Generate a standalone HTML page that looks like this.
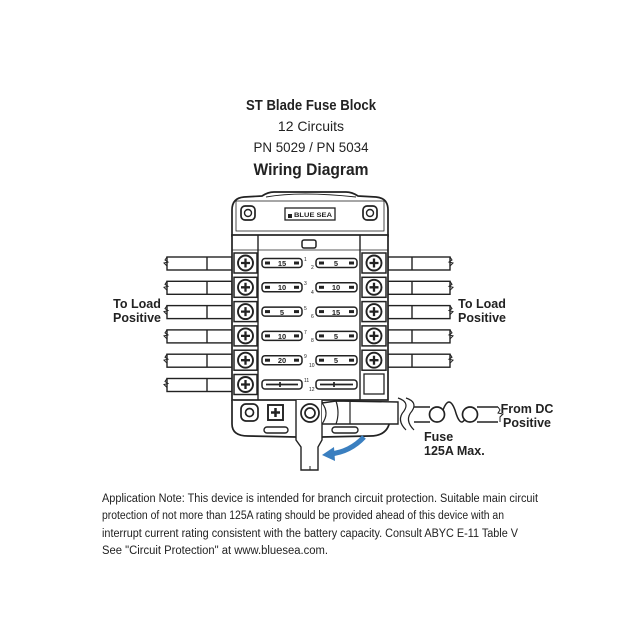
<!DOCTYPE html>
<html><head><meta charset="utf-8"><style>
html,body{margin:0;padding:0;background:#fff;}
svg{display:block;}
text{font-family:"Liberation Sans",sans-serif;fill:#222;}
</style></head><body>
<svg width="640" height="640" viewBox="0 0 640 640" xmlns="http://www.w3.org/2000/svg">
<rect width="640" height="640" fill="#fff"/>
<text x="311" y="110" font-size="15" font-weight="bold" text-anchor="middle" textLength="130" lengthAdjust="spacingAndGlyphs">ST Blade Fuse Block</text>
<text x="311" y="131" font-size="14" text-anchor="middle">12 Circuits</text>
<text x="311" y="152" font-size="14" text-anchor="middle" textLength="115" lengthAdjust="spacingAndGlyphs">PN 5029 / PN 5034</text>
<text x="311" y="175" font-size="17" font-weight="bold" text-anchor="middle" textLength="115" lengthAdjust="spacingAndGlyphs">Wiring Diagram</text>

<g stroke="#222" fill="none" stroke-width="1.4">
<g id="lw">
<rect x="167" y="257" width="65" height="13" fill="#fff"/>
<line x1="207" y1="257" x2="207" y2="270"/>
<path d="M167 257 l-2 3 l3 2 l-4 1 l3 3 l0 4" stroke-width="1"/>
</g>
<use href="#lw" y="24.3"/><use href="#lw" y="48.6"/><use href="#lw" y="72.9"/><use href="#lw" y="97.2"/><use href="#lw" y="121.5"/>
<g id="rw">
<rect x="388" y="257" width="62" height="13" fill="#fff"/>
<line x1="412" y1="257" x2="412" y2="270"/>
<path d="M450 257 l2 3 l-3 2 l4 1 l-3 3 l0 4" stroke-width="1"/>
</g>
<use href="#rw" y="24.3"/><use href="#rw" y="48.6"/><use href="#rw" y="72.9"/><use href="#rw" y="97.2"/>

<path d="M232 236 L232 210 Q232 198 244 197 L262 196 Q268 192 274 192 L346 192 Q352 192 358 196 L376 197 Q388 198 388 210 L388 236 Z" fill="#fff" stroke-width="1.7"/>
<path d="M266 197 Q300 191 356 197" stroke-width="1"/>
<rect x="236" y="201" width="148" height="30" fill="none" stroke-width="0.8"/>
<rect x="241" y="206" width="14" height="14" rx="4" stroke-width="1.7"/>
<circle cx="248" cy="213" r="3.5"/>
<rect x="363" y="206" width="14" height="14" rx="4" stroke-width="1.7"/>
<circle cx="370" cy="213" r="3.5"/>
<rect x="285" y="208" width="50" height="12" stroke-width="1.3"/>
<rect x="288" y="214" width="4" height="4" fill="#222" stroke="none"/>
<rect x="232" y="235" width="156" height="165" fill="#fff" stroke-width="1.7"/>
<line x1="258" y1="235" x2="258" y2="400"/>
<line x1="360" y1="235" x2="360" y2="400"/>
<line x1="232" y1="250" x2="388" y2="250" stroke-width="0.8"/>
<rect x="302" y="240" width="14" height="8" rx="2" stroke-width="1.5"/>
<rect x="364" y="374" width="20" height="20" stroke-width="1.3"/>
</g>
<text x="294" y="217" font-size="6.5" textLength="38" lengthAdjust="spacingAndGlyphs" font-weight="bold">BLUE SEA</text>

<g id="row" stroke="#222" fill="none">
<rect x="234" y="253" width="23" height="20" stroke-width="1.5"/>
<circle cx="245.5" cy="263" r="7.5" stroke-width="1.9" fill="#fff"/>
<path d="M245.5 258.5 v9 M241 263 h9" stroke-width="2.3"/>
<rect x="362" y="253" width="24" height="20" stroke-width="1.5"/>
<circle cx="374" cy="263" r="7.5" stroke-width="1.9" fill="#fff"/>
<path d="M374 258.5 v9 M369.5 263 h9" stroke-width="2.3"/>
<rect x="262" y="258.5" width="40" height="9" rx="3" stroke-width="1.5"/>
<rect x="316" y="258.5" width="41" height="9" rx="3" stroke-width="1.5"/>
<rect x="265" y="261.5" width="5" height="3" fill="#222" stroke="none"/>
<rect x="294" y="261.5" width="5" height="3" fill="#222" stroke="none"/>
<rect x="319" y="261.5" width="5" height="3" fill="#222" stroke="none"/>
<rect x="349" y="261.5" width="5" height="3" fill="#222" stroke="none"/>
</g>
<use href="#row" y="24.3"/><use href="#row" y="48.6"/><use href="#row" y="72.9"/><use href="#row" y="97.2"/>
<g stroke="#222" fill="none">
<rect x="234" y="374.5" width="23" height="20" stroke-width="1.5"/>
<circle cx="245.5" cy="384.5" r="7.5" stroke-width="1.9" fill="#fff"/>
<path d="M245.5 380 v9 M241 384.5 h9" stroke-width="2.3"/>
<rect x="262" y="380" width="40" height="9" rx="3" stroke-width="1.5"/>
<rect x="316" y="380" width="41" height="9" rx="3" stroke-width="1.5"/>
<path d="M266 384.5 h32 M280 382 v5 M320 384.5 h33 M334 382 v5" stroke-width="1.7"/>
</g>
<g font-size="7.5" text-anchor="middle" font-weight="bold">
<text x="282" y="266">15</text><text x="336" y="266">5</text>
<text x="282" y="290">10</text><text x="336" y="290">10</text>
<text x="282" y="315">5</text><text x="336" y="315">15</text>
<text x="282" y="339">10</text><text x="336" y="339">5</text>
<text x="282" y="363">20</text><text x="336" y="363">5</text>
</g>
<g font-size="5">
<text x="304" y="261">1</text><text x="311" y="269">2</text>
<text x="304" y="285">3</text><text x="311" y="294">4</text>
<text x="304" y="310">5</text><text x="311" y="318">6</text>
<text x="304" y="334">7</text><text x="311" y="342">8</text>
<text x="304" y="358">9</text><text x="309" y="367">10</text>
<text x="304" y="382">11</text><text x="309" y="391">12</text>
</g>

<g stroke="#222" fill="none" stroke-width="1.7">
<path d="M232 400 L232 424 Q232 436 248 436 L296 437 M322 437 L370 436 Q388 436 390 420" fill="#fff"/>
<rect x="241" y="404" width="17" height="17" rx="5"/>
<circle cx="249.5" cy="412.5" r="4"/>
<rect x="268" y="405" width="15" height="15" stroke-width="1.9"/>
<path d="M275.5 408 v9 M271 412.5 h9" stroke-width="2.5"/>
<rect x="264" y="427" width="24" height="6" rx="3" stroke-width="1.4"/>
<rect x="332" y="427" width="26" height="6" rx="3" stroke-width="1.4"/>
<path d="M296 400 L296 440 L301 447 L301 470 L318 470 L318 447 L322 440 L322 400" fill="#fff" stroke-width="1.4"/>
<path d="M310 466 v4" stroke-width="1"/>
<circle cx="310" cy="413" r="9" fill="#fff"/>
<circle cx="310" cy="413" r="5"/>
<path d="M322 403 L336 401 L398 402 L398 424 L336 424 L322 424" fill="#fff" stroke-width="1.4"/>
<path d="M322 403 Q330 413 322 424 M336 401 Q340 413 336 424 M350 402 v22" stroke-width="1.2"/>
<path d="M398 398 Q410 402 404 411 Q396 420 406 430" stroke-width="1.2"/>
<path d="M406 398 Q418 402 412 411 Q404 420 414 430" stroke-width="1.2"/>
<path d="M414 407 H430 M414 422 H430 M477 407 H498 M477 422 H498" stroke-width="1.4"/>
<path d="M498 407 l2 3 l-2 3 l5 1 l-3 3 l0 5" stroke-width="1"/>
<circle cx="437" cy="414.5" r="7.5" fill="#fff"/>
<circle cx="470" cy="414.5" r="7.5" fill="#fff"/>
<path d="M443 410 Q449 394 455 410 Q460 428 465 419" stroke-width="1.5"/>
</g>
<path d="M364 437 Q350 452 330 454" stroke="#3a7fc0" stroke-width="5" fill="none"/>
<path d="M334 447 L322 455 L335 461 Z" fill="#3a7fc0"/>

<g font-size="12.5" font-weight="bold" text-anchor="middle">
<text x="137" y="308">To Load</text><text x="137" y="322">Positive</text>
<text x="482" y="308">To Load</text><text x="482" y="322">Positive</text>
<text x="527" y="413">From DC</text><text x="527" y="427">Positive</text>
</g>
<g font-size="12.5" font-weight="bold">
<text x="424" y="441">Fuse</text><text x="424" y="455">125A Max.</text>
</g>
<g font-size="11.5">
<text x="102" y="502" textLength="436" lengthAdjust="spacingAndGlyphs">Application Note:  This device is intended for branch circuit protection. Suitable main circuit</text>
<text x="102" y="519" textLength="402" lengthAdjust="spacingAndGlyphs">protection of not more than 125A rating should be provided ahead of this device with an</text>
<text x="102" y="537" textLength="416" lengthAdjust="spacingAndGlyphs">interrupt current rating consistent with the battery capacity. Consult ABYC E-11 Table V</text>
<text x="102" y="554" textLength="226" lengthAdjust="spacingAndGlyphs">See "Circuit Protection" at www.bluesea.com.</text>
</g>
</svg>
</body></html>
